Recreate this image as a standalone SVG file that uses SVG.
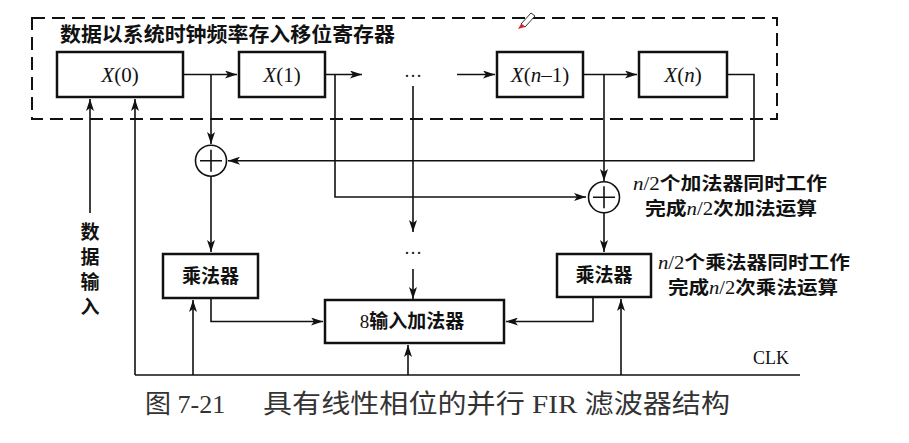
<svg xmlns="http://www.w3.org/2000/svg" width="909" height="443" viewBox="0 0 909 443">
<defs>
<style>
.box{fill:#fff;stroke:#111;stroke-width:2.5}
.ln{fill:none;stroke:#111;stroke-width:1.6}
.dash{fill:none;stroke:#111;stroke-width:2;stroke-dasharray:13 7}
.add{fill:#fff;stroke:#111;stroke-width:1.6}
.cjk{font-family:"Noto Sans CJK SC","Noto Sans",sans-serif;font-weight:bold;fill:#111}
.ser{font-family:"Liberation Serif","Noto Sans CJK SC",serif;fill:#111}
.it{font-style:italic}
.cap{font-family:"Liberation Serif","Noto Sans CJK SC",serif;fill:#333;font-size:26px}
</style>
<marker id="ah" viewBox="0 0 12 8" refX="12" refY="4" markerWidth="12" markerHeight="8" markerUnits="userSpaceOnUse" orient="auto">
<path d="M0,0 L12,4 L0,8 L3,4 Z" fill="#111"/>
</marker>
</defs>
<rect width="909" height="443" fill="#fff"/>

<g id="register-frame">
<rect class="dash" x="32" y="18" width="745" height="101"/>
<text class="cjk" x="60" y="42" font-size="20" textLength="335" lengthAdjust="spacingAndGlyphs">数据以系统时钟频率存入移位寄存器</text>
</g>

<g id="connectors">
<path class="ln" d="M183,74.5 H237" marker-end="url(#ah)"/>
<path class="ln" d="M211,74.5 V144" marker-end="url(#ah)"/>
<path class="ln" d="M325,74.5 H362" marker-end="url(#ah)"/>
<path class="ln" d="M335,74.5 V197 H586" marker-end="url(#ah)"/>
<path class="ln" d="M457,74.5 H495" marker-end="url(#ah)"/>
<path class="ln" d="M583,74.5 H637" marker-end="url(#ah)"/>
<path class="ln" d="M604,74.5 V181" marker-end="url(#ah)"/>
<path class="ln" d="M727,74.5 H754 V160.7 H228" marker-end="url(#ah)"/>
<path class="ln" d="M413,86 V232" marker-end="url(#ah)"/>
<path class="ln" d="M413,269 V299" marker-end="url(#ah)"/>
<path class="ln" d="M211,176.5 V252" marker-end="url(#ah)"/>
<path class="ln" d="M604,213 V252" marker-end="url(#ah)"/>
<path class="ln" d="M211,298 V321.5 H323" marker-end="url(#ah)"/>
<path class="ln" d="M593,297 V321.5 H506" marker-end="url(#ah)"/>
<path class="ln" d="M135,375 H800"/>
<path class="ln" d="M135,375 V99" marker-end="url(#ah)"/>
<path class="ln" d="M90,213 V99" marker-end="url(#ah)"/>
<path class="ln" d="M193,375 V300" marker-end="url(#ah)"/>
<path class="ln" d="M408,375 V345" marker-end="url(#ah)"/>
<path class="ln" d="M621,375 V299" marker-end="url(#ah)"/>
<text class="ser" x="413" y="77" font-size="18" text-anchor="middle">…</text>
<text class="ser" x="413" y="254" font-size="18" text-anchor="middle">…</text>
<text class="ser" x="753" y="364" font-size="18">CLK</text>
</g>

<g id="x0">
<rect class="box" x="57" y="52" width="126" height="45"/>
<text class="ser" x="120" y="82" font-size="21" text-anchor="middle"><tspan class="it">X</tspan>(0)</text>
</g>
<g id="x1">
<rect class="box" x="239" y="52" width="86" height="45"/>
<text class="ser" x="282" y="82" font-size="21" text-anchor="middle"><tspan class="it">X</tspan>(1)</text>
</g>
<g id="xn1">
<rect class="box" x="497" y="52" width="86" height="45"/>
<text class="ser" x="540" y="82" font-size="21" text-anchor="middle"><tspan class="it">X</tspan>(<tspan class="it">n</tspan>–1)</text>
</g>
<g id="xn">
<rect class="box" x="639" y="52" width="88" height="45"/>
<text class="ser" x="683" y="82" font-size="21" text-anchor="middle"><tspan class="it">X</tspan>(<tspan class="it">n</tspan>)</text>
</g>

<g id="adder1">
<circle class="add" cx="211" cy="160.7" r="15.5"/>
<path class="ln" d="M200,160.7 H222 M211,149.7 V171.7"/>
</g>
<g id="adder2">
<circle class="add" cx="604" cy="197.3" r="15.5"/>
<path class="ln" d="M593,197.3 H615 M604,186.3 V208.3"/>
</g>

<g id="mult1">
<rect class="box" x="163" y="254" width="95" height="44"/>
<text class="cjk" x="210.5" y="283" font-size="19" text-anchor="middle">乘法器</text>
</g>
<g id="mult2">
<rect class="box" x="557" y="254" width="94" height="43"/>
<text class="cjk" x="604" y="282" font-size="19" text-anchor="middle">乘法器</text>
</g>
<g id="adder8">
<rect class="box" x="325" y="300" width="179" height="43"/>
<text class="cjk" x="412" y="328" font-size="19" text-anchor="middle"><tspan font-family="Liberation Serif" font-weight="normal">8</tspan>输入加法器</text>
</g>

<g id="note-add">
<text class="cjk" x="633" y="190" font-size="18" textLength="194" lengthAdjust="spacingAndGlyphs"><tspan class="ser it" font-weight="normal">n</tspan><tspan class="ser" font-weight="normal">/2</tspan>个加法器同时工作</text>
<text class="cjk" x="645" y="215" font-size="18" textLength="172" lengthAdjust="spacingAndGlyphs">完成<tspan class="ser it" font-weight="normal">n</tspan><tspan class="ser" font-weight="normal">/2</tspan>次加法运算</text>
</g>
<g id="note-mult">
<text class="cjk" x="658" y="269" font-size="18" textLength="192" lengthAdjust="spacingAndGlyphs"><tspan class="ser it" font-weight="normal">n</tspan><tspan class="ser" font-weight="normal">/2</tspan>个乘法器同时工作</text>
<text class="cjk" x="668" y="294" font-size="18" textLength="170" lengthAdjust="spacingAndGlyphs">完成<tspan class="ser it" font-weight="normal">n</tspan><tspan class="ser" font-weight="normal">/2</tspan>次乘法运算</text>
</g>

<g id="data-input">
<text class="cjk" x="90" y="222" font-size="19" writing-mode="vertical-rl" letter-spacing="6">数据输入</text>
</g>

<g id="caption">
<text class="cap" x="145" y="413">图 7-21</text>
<text class="cap" x="263" y="413" textLength="467" lengthAdjust="spacingAndGlyphs">具有线性相位的并行 FIR 滤波器结构</text>
</g>

<g id="pen">
<path d="M521,24 L531,13 L535,16 L525,27 Z" fill="#fff" stroke="#333" stroke-width="1"/>
<path d="M521,24 L525,27 L518,29 Z" fill="#e02020"/>
</g>
</svg>
